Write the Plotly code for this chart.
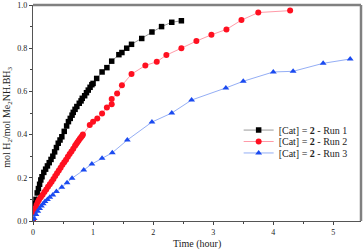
import plotly.graph_objects as go

# Run 1 (black squares)
t1 = [0, 0.01, 0.02, 0.03, 0.05, 0.07, 0.09, 0.11, 0.13, 0.15, 0.18, 0.21, 0.24, 0.27, 0.30, 0.33,
      0.36, 0.39, 0.42, 0.45, 0.48, 0.52, 0.56, 0.59, 0.62, 0.65, 0.67, 0.70, 0.73, 0.77, 0.80, 0.82,
      0.86, 0.89, 0.92, 0.95, 0.98, 1.0, 1.06, 1.15, 1.23, 1.31, 1.43, 1.48, 1.56, 1.64, 1.81, 1.98,
      2.14, 2.31, 2.47]
y1 = [0, 0.04, 0.06, 0.08, 0.10, 0.13, 0.15, 0.17, 0.19, 0.205, 0.225, 0.24, 0.255, 0.27, 0.285, 0.30,
      0.32, 0.34, 0.36, 0.375, 0.39, 0.415, 0.44, 0.46, 0.475, 0.49, 0.503, 0.517, 0.53, 0.545, 0.556, 0.568,
      0.58, 0.594, 0.606, 0.619, 0.631, 0.637, 0.66, 0.69, 0.71, 0.74, 0.77, 0.78, 0.80, 0.818, 0.845, 0.875,
      0.90, 0.92, 0.927]

# Run 2 (red circles)
t2 = [0, 0.02, 0.04, 0.06, 0.08, 0.10, 0.13, 0.16, 0.19, 0.22, 0.25, 0.28, 0.31, 0.34, 0.37, 0.40,
      0.43, 0.46, 0.49, 0.52, 0.55, 0.58, 0.61, 0.64, 0.67, 0.70, 0.72, 0.74, 0.76, 0.78, 0.80, 0.82, 0.83,
      0.945, 1.0, 1.07, 1.15, 1.23, 1.31, 1.31, 1.40, 1.48, 1.64, 1.87, 2.06, 2.22, 2.47, 2.72, 2.97,
      3.22, 3.47, 3.75, 4.28]
y2 = [0, 0.04, 0.06, 0.075, 0.088, 0.098, 0.11, 0.122, 0.134, 0.146, 0.158, 0.17, 0.182, 0.195, 0.208, 0.221,
      0.234, 0.247, 0.26, 0.272, 0.284, 0.297, 0.31, 0.322, 0.335, 0.348, 0.356, 0.365, 0.373, 0.381, 0.388, 0.395, 0.40,
      0.444, 0.46, 0.475, 0.498, 0.525, 0.54, 0.565, 0.59, 0.628, 0.68, 0.72, 0.737, 0.768, 0.80, 0.833, 0.862,
      0.887, 0.93, 0.965, 0.974]

# Run 3 (blue triangles)
t3 = [0, 0.02, 0.05, 0.08, 0.11, 0.14, 0.17, 0.20, 0.24, 0.28, 0.33, 0.39, 0.48, 0.567, 0.65, 0.845,
      0.98, 1.15, 1.32, 1.57, 1.98, 2.31, 2.64, 3.21, 3.50, 4.0, 4.33, 4.83, 5.28]
y3 = [0, 0.012, 0.03, 0.045, 0.058, 0.07, 0.08, 0.09, 0.10, 0.11, 0.12, 0.136, 0.156, 0.177, 0.198, 0.236,
      0.264, 0.29, 0.316, 0.375, 0.458, 0.50, 0.56, 0.616, 0.647, 0.69, 0.693, 0.73, 0.75]

names = ["[Cat] = <b>2</b> - Run 1", "[Cat] = <b>2</b> - Run 2", "[Cat] = <b>2</b> - Run 3"]
x_ticks = [0, 1, 2, 3, 4, 5]
y_ticks = [0, 0.2, 0.4, 0.6, 0.8, 1.0]
y_ticktext = ["0.0", "0.2", "0.4", "0.6", "0.8", "1.0"]

font = "Liberation Serif"
fig = go.Figure()
fig.add_trace(go.Scatter(x=t1, y=y1, mode="lines+markers", name=names[0], legend="legend",
                         line=dict(color="#9a9a9a", width=1),
                         marker=dict(symbol="square", size=5.5, color="#000000")))
fig.add_trace(go.Scatter(x=t2, y=y2, mode="lines+markers", name=names[1], legend="legend2",
                         line=dict(color="#ff9aa8", width=1),
                         marker=dict(symbol="circle", size=6, color="#ff1020")))
fig.add_trace(go.Scatter(x=t3, y=y3, mode="lines+markers", name=names[2], legend="legend3",
                         line=dict(color="#94aef5", width=1),
                         marker=dict(symbol="triangle-up", size=6, color="#1a4af0")))

def leg(y):
    return dict(x=0.627, y=y, xanchor="left", yanchor="middle", bgcolor="rgba(0,0,0,0)",
                font=dict(family=font, size=10, color="#222"), itemwidth=30)

fig.update_layout(
    width=364, height=252,
    margin=dict(l=33, r=3, t=5, b=31),
    paper_bgcolor="white", plot_bgcolor="white",
    font=dict(family=font, size=9, color="#222"),
    showlegend=True,
    legend=leg(0.421), legend2=leg(0.368), legend3=leg(0.315),
    xaxis=dict(range=[0, 5.46], tickvals=x_ticks, ticks="outside", ticklen=3, automargin=False,
               tickcolor="#444", showline=True, linecolor="#555", linewidth=1.2,
               showgrid=False, zeroline=False,
               minor=dict(tickvals=[0.5, 1.5, 2.5, 3.5, 4.5], ticks="outside", ticklen=2, tickcolor="#444"),
               tickfont=dict(family=font, size=8)),
    yaxis=dict(range=[0, 1.0], tickvals=y_ticks, ticktext=y_ticktext, automargin=False,
               ticks="outside", ticklen=3, tickcolor="#444", showline=True, linecolor="#555", linewidth=1.2,
               showgrid=False, zeroline=False,
               minor=dict(tickvals=[0.1, 0.3, 0.5, 0.7, 0.9], ticks="outside", ticklen=2, tickcolor="#444"),
               tickfont=dict(family=font, size=8)),
    shapes=[
        dict(type="line", xref="paper", yref="paper", x0=0, x1=1, y0=1, y1=1,
             line=dict(color="#808080", width=2.5)),
        dict(type="line", xref="paper", yref="paper", x0=1, x1=1, y0=0, y1=1,
             line=dict(color="#808080", width=2.5)),
    ],
    annotations=[
        dict(text="Time (hour)", xref="paper", yref="paper", x=0.50, y=-0.106,
             xanchor="center", yanchor="middle", showarrow=False,
             font=dict(family=font, size=10, color="#222")),
        dict(text="mol H<sub>2</sub>/mol Me<sub>2</sub>NH.BH<sub>3</sub>", xref="paper", yref="paper",
             x=-0.078, y=0.48, xanchor="center", yanchor="middle", textangle=-90, showarrow=False,
             font=dict(family=font, size=10, color="#222")),
    ],
)

fig.write_html("out.html", config={"displayModeBar": False},
               post_script="document.body.style.margin='0';document.body.style.overflow='hidden';")
